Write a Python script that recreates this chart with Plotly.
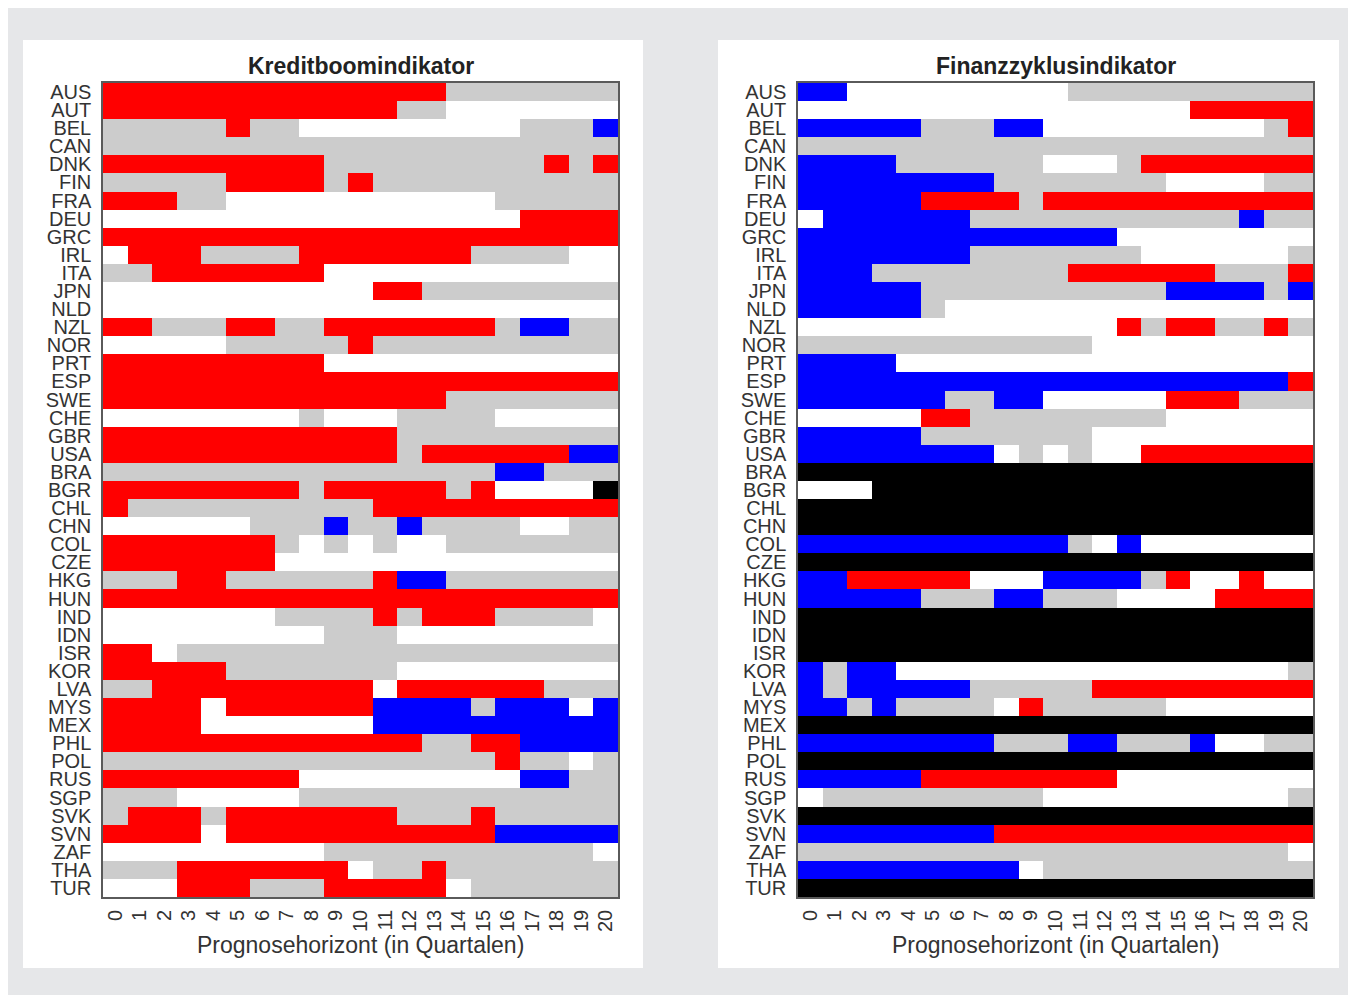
import plotly.graph_objects as go

# ---------------- data ----------------
countries = ["AUS", "AUT", "BEL", "CAN", "DNK", "FIN", "FRA", "DEU", "GRC", "IRL",
             "ITA", "JPN", "NLD", "NZL", "NOR", "PRT", "ESP", "SWE", "CHE", "GBR",
             "USA", "BRA", "BGR", "CHL", "CHN", "COL", "CZE", "HKG", "HUN", "IND",
             "IDN", "ISR", "KOR", "LVA", "MYS", "MEX", "PHL", "POL", "RUS", "SGP",
             "SVK", "SVN", "ZAF", "THA", "TUR"]

horizons = list(range(21))

# Signal per country and horizon, run-length coded
# (W = white, G = grey, R = red, B = blue, K = black)
kredit_rows = [
    "R14 G7", "R12 G2 W7", "G5 R1 G2 W9 G3 B1", "G21", "R9 G9 R1 G1 R1",
    "G5 R4 G1 R1 G10", "R3 G2 W11 G5", "W17 R4", "R21", "W1 R3 G4 R7 G4 W2",
    "G2 R7 W12", "W11 R2 G8", "W21", "R2 G3 R2 G2 R7 G1 B2 G2", "W5 G5 R1 G10",
    "R9 W12", "R21", "R14 G7", "W8 G1 W3 G4 W5", "R12 G9",
    "R12 G1 R6 B2", "G16 B2 G3", "R8 G1 R5 G1 R1 W4 K1", "R1 G10 R10",
    "W6 G3 B1 G2 B1 G4 W2 G2", "R7 G1 W1 G1 W1 G1 W2 G7", "R7 W14",
    "G3 R2 G6 R1 B2 G7", "R21", "W7 G4 R1 G1 R3 G4 W1",
    "W9 G3 W9", "R2 W1 G18", "R5 G7 W9", "G2 R9 W1 R6 G3",
    "R4 W1 R6 B4 G1 B3 W1 B1", "R4 W7 B10", "R13 G2 R2 B4", "G16 R1 G2 W1 G1",
    "R8 W9 B2 G2", "G3 W5 G13", "G1 R3 G1 R7 G3 R1 G5", "R4 W1 R11 B5",
    "W9 G11 W1", "G3 R7 W1 G2 R1 G7", "W3 R3 G3 R5 W1 G6",
]

finanz_rows = [
    "B2 W9 G10", "W16 R5", "B5 G3 B2 W9 G1 R1", "G21", "B4 G6 W3 G1 R7",
    "B8 G7 W4 G2", "B5 R4 G1 R11", "W1 B6 G11 B1 G2", "B13 W8", "B7 G7 W6 G1",
    "B3 G8 R6 G3 R1", "B5 G10 B4 G1 B1", "B5 G1 W15", "W13 R1 G1 R2 G2 R1 G1",
    "G12 W9", "B4 W17", "B20 R1", "B6 G2 B2 W5 R3 G3", "W5 R2 G8 W6", "B5 G7 W9",
    "B8 W1 G1 W1 G1 W2 R7", "K21", "W3 K18", "K21", "K21",
    "B11 G1 W1 B1 W7", "K21", "B2 R5 W3 B4 G1 R1 W2 R1 W2", "B5 G3 B2 G3 W4 R4",
    "K21", "K21", "K21", "B1 G1 B2 W16 G1", "B1 G1 B5 G5 R9",
    "B2 G1 B1 G4 W1 R1 G5 W6", "K21", "B8 G3 B2 G3 B1 W2 G2", "K21",
    "B5 R8 W8", "W1 G9 W10 G1", "K21", "B8 R13", "G20 W1", "B9 W1 G11", "K21",
]

panel_titles = ["Kreditboomindikator", "Finanzzyklusindikator"]
x_title = "Prognosehorizont (in Quartalen)"

# ---------------- styling ----------------
CODE = {"W": 0, "G": 1, "R": 2, "B": 3, "K": 4}
COLORS = ["#ffffff", "#cccccc", "#ff0000", "#0000ff", "#000000"]


def decode(rle):
    out = []
    for tok in rle.split():
        out += [CODE[tok[0]]] * int(tok[1:])
    return out


colorscale = []
for i, c in enumerate(COLORS):
    colorscale.append([i / 5, c])
    colorscale.append([(i + 1) / 5, c])

W, H = 1348, 987
FONT = "Liberation Sans, Arial, sans-serif"
TXT = "#333333"

# pixel geometry (figure coordinates)
plot_y0, plot_y1 = 75, 889
panels = [
    dict(px0=95, px1=610, bx0=15, bx1=635),
    dict(px0=790, px1=1305, bx0=710, bx1=1331),
]

fig = go.Figure()
ind = list(range(len(countries)))

for k, (rows, p) in enumerate(zip([kredit_rows, finanz_rows], panels)):
    z = [decode(r) for r in rows]
    sfx = "" if k == 0 else "2"
    fig.add_trace(go.Heatmap(
        z=z, x=horizons, y=ind, xaxis="x" + sfx, yaxis="y" + sfx,
        colorscale=colorscale, zmin=-0.5, zmax=4.5, showscale=False,
        hoverinfo="skip", xgap=0, ygap=0,
    ))
    dom_x = [p["px0"] / W, p["px1"] / W]
    dom_y = [1 - plot_y1 / H, 1 - plot_y0 / H]
    fig.layout["xaxis" + sfx] = dict(
        domain=dom_x, range=[-0.5, 20.5], tickmode="array", tickvals=horizons,
        ticktext=[str(h) for h in horizons], tickangle=-90,
        tickfont=dict(size=20, color=TXT, family=FONT), showgrid=False,
        zeroline=False, showline=True, mirror=True, linecolor="#5a5a5a",
        linewidth=1.5, ticks="", ticklabelstandoff=3, automargin=False,
        anchor="y" + sfx, fixedrange=True,
    )
    fig.layout["yaxis" + sfx] = dict(
        domain=dom_y, range=[len(countries) - 0.5, -0.5], tickmode="array",
        tickvals=ind, ticktext=countries,
        tickfont=dict(size=20, color=TXT, family=FONT), showgrid=False,
        zeroline=False, showline=True, mirror=True, linecolor="#5a5a5a",
        linewidth=1.5, ticks="", ticklabelstandoff=6, automargin=False,
        anchor="x" + sfx, fixedrange=True,
    )
    # white panel background
    fig.add_shape(type="rect", xref="paper", yref="paper",
                  x0=p["bx0"] / W, x1=p["bx1"] / W,
                  y0=1 - 960 / H, y1=1 - 32 / H,
                  fillcolor="#ffffff", line=dict(width=0), layer="below")
    cx = (p["px0"] + p["px1"]) / 2 / W
    fig.add_annotation(text="<b>" + panel_titles[k] + "</b>", xref="paper",
                       yref="paper", x=cx, y=1 - 58 / H, showarrow=False,
                       xanchor="center", yanchor="middle",
                       font=dict(size=23, color="#222222", family=FONT))
    fig.add_annotation(text=x_title, xref="paper", yref="paper", x=cx,
                       y=1 - 937 / H, showarrow=False, xanchor="center",
                       yanchor="middle",
                       font=dict(size=23, color=TXT, family=FONT))

fig.update_layout(
    width=W, height=H, margin=dict(l=0, r=0, t=0, b=0),
    paper_bgcolor="#e6e7e9", plot_bgcolor="#ffffff", showlegend=False,
)

fig.write_html("out.html")
